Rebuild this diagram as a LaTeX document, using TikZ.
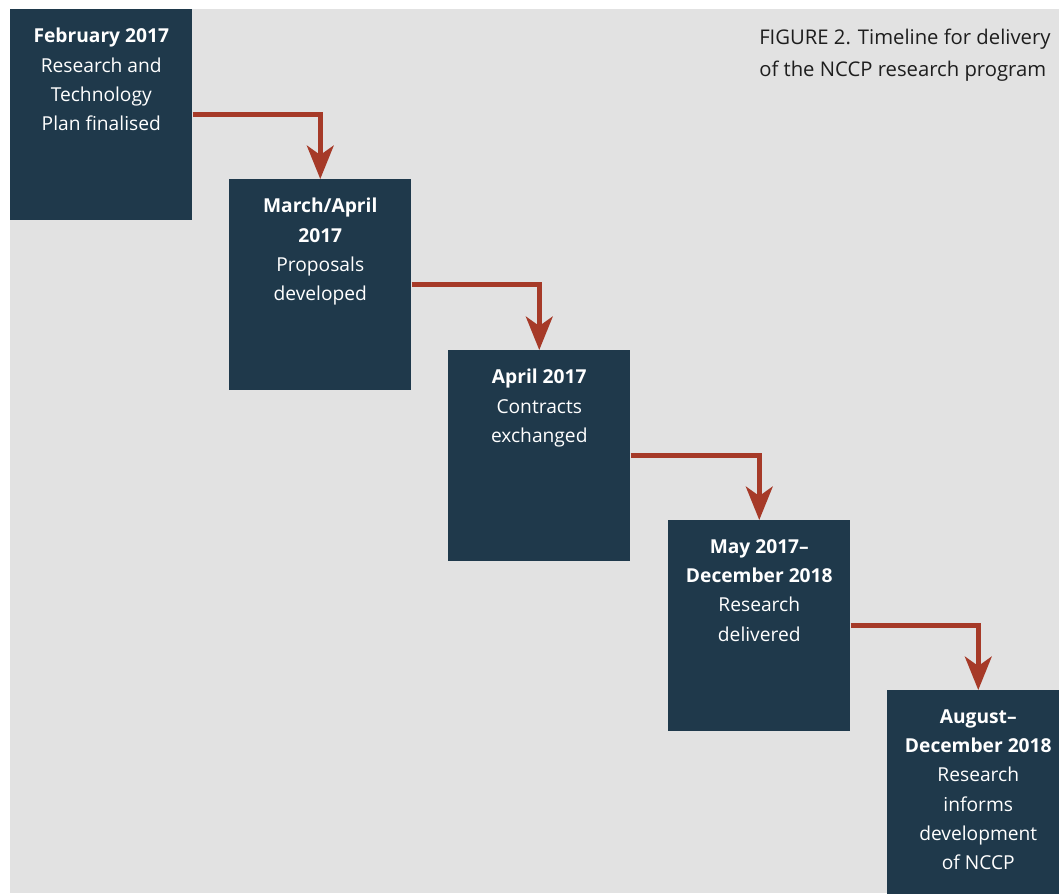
\documentclass[tikz,border=0pt]{standalone}
\usepackage{fontspec}
\setmainfont{Open Sans}
\usetikzlibrary{arrows.meta}
\definecolor{boxblue}{HTML}{1F394B}
\definecolor{arrowred}{HTML}{A63A28}
\definecolor{photogrey}{HTML}{E2E2E2}
\definecolor{titlegrey}{HTML}{1E1E1E}

\begin{document}
\begin{tikzpicture}
  [x=0.75pt, y=-0.75pt,
   box/.style={rectangle, fill=boxblue, minimum width=136.5pt, minimum height=158.25pt, inner sep=0pt, anchor=north west},
   boxtext/.style={anchor=north, text=white, align=center, inner sep=0pt, font=\fontsize{14.4}{22}\selectfont, yshift=-14.3pt},
   link/.style={draw=arrowred, line width=3.75pt, -{Stealth[length=25pt, width=20pt, inset=7pt]}}]
  % background
  \useasboundingbox (0,0) rectangle (1059,893);
  \clip (0,0) rectangle (1059,893);
  \fill[white] (0,0) rectangle (1059,893);
  \fill[photogrey] (10,9) rectangle (1059,893);
  % title
  \node[anchor=north west, align=left, inner sep=0pt, text=titlegrey, font=\fontsize{15.2}{24}\selectfont] (title) at (759,29)
    {FIGURE 2. Timeline for delivery\\of the NCCP research program};
  % boxes
  \node[box] (b1) at (10,9) {};
  \node[box] (b2) at (229,179) {};
  \node[box] (b3) at (448,350) {};
  \node[box] (b4) at (668,520) {};
  \node[box] (b5) at (887,690) {};
  % box texts
  \node[boxtext] (t1) at (b1.north) {\textbf{February 2017}\\Research and\\Technology\\Plan finalised};
  \node[boxtext] (t2) at (b2.north) {\textbf{March/April}\\\textbf{2017}\\Proposals\\developed};
  \node[boxtext] (t3) at (b3.north) {\textbf{April 2017}\\Contracts\\exchanged};
  \node[boxtext] (t4) at (b4.north) {\textbf{May 2017--}\\\textbf{December 2018}\\Research\\delivered};
  \node[boxtext] (t5) at (b5.north) {\textbf{August--}\\\textbf{December 2018}\\Research\\informs\\development\\of NCCP};
  % arrows
  \draw[link] (b1.east) -| (b2.north);
  \draw[link] (b2.east) -| (b3.north);
  \draw[link] (b3.east) -| (b4.north);
  \draw[link] (b4.east) -| (b5.north);
\end{tikzpicture}
\end{document}
